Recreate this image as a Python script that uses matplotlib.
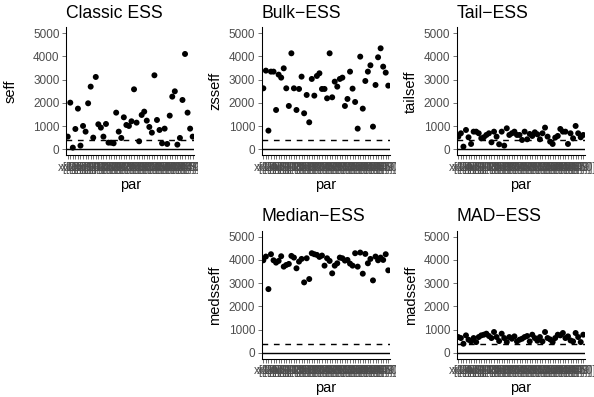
import matplotlib
matplotlib.use("Agg")
import matplotlib.pyplot as plt
from matplotlib.transforms import Bbox
import numpy as np

# Effective sample size estimates per parameter
params = [f"x[{i}]" for i in range(1, 51)]

seff = [546, 2011, 72, 876, 1753, 158, 1006, 761, 1983, 2701,
        503, 3118, 1078, 934, 546, 1092, 287, 287, 259, 1580,
        761, 489, 1379, 1049, 1006, 1207, 2586, 1149, 345, 1480,
        1624, 1236, 963, 718, 3190, 1264, 833, 259, 891, 230,
        1451, 2270, 2500, 201, 489, 2126, 4109, 1580, 891, 546]

zsseff = [2629, 3391, 805, 3348, 3348, 1695, 3218, 3089, 3491, 2629,
          1868, 4138, 2629, 1695, 2601, 3132, 1552, 2342, 1164, 3032,
          2313, 3161, 3276, 2601, 2601, 2198, 4138, 2241, 2917, 2701,
          3032, 3089, 1868, 2170, 3348, 2615, 2040, 891, 3994, 1753,
          2945, 3348, 3621, 977, 2773, 3966, 4353, 3563, 3305, 2744]

tailseff = [546, 690, 115, 833, 517, 230, 761, 761, 690, 474,
            517, 618, 690, 302, 761, 546, 216, 761, 158, 905,
            618, 690, 761, 618, 618, 402, 761, 431, 661, 575,
            733, 646, 431, 690, 934, 546, 330, 230, 503, 575,
            876, 761, 761, 230, 690, 474, 1006, 690, 517, 618]

medsseff = [3988, 4148, 2746, 4249, 3988, 3887, 3960, 4162, 3714, 3786,
            3830, 4176, 4104, 3642, 3931, 4046, 3035, 4075, 3179, 4292,
            4249, 4220, 4133, 4191, 3757, 4075, 3960, 3425, 3757, 3858,
            4104, 4075, 3974, 4003, 3844, 3757, 4292, 3714, 4321, 3410,
            4263, 3858, 4046, 3121, 4148, 3988, 4104, 4003, 4249, 3555]

madsseff = [679, 636, 390, 751, 564, 491, 636, 462, 679, 751,
            780, 824, 723, 636, 896, 679, 506, 824, 636, 462,
            679, 607, 708, 491, 564, 607, 679, 723, 491, 780,
            636, 520, 679, 491, 896, 636, 578, 462, 636, 780,
            751, 853, 636, 708, 534, 491, 853, 679, 462, 780]

panels = [
    ("Classic ESS", "seff", seff),
    ("Bulk\u2212ESS", "zsseff", zsseff),
    ("Tail\u2212ESS", "tailseff", tailseff),
    ("Median\u2212ESS", "medsseff", medsseff),
    ("MAD\u2212ESS", "madsseff", madsseff),
]

threshold = 400
yticks = [0, 1000, 2000, 3000, 4000, 5000]

W, H = 594, 397
DPI = 96
plt.rcParams["font.family"] = ["Liberation Sans", "DejaVu Sans"]
fig = plt.figure(figsize=(W / DPI, H / DPI), dpi=DPI)

# panel boxes in pixels: (left, top, width, height), y-label centre x, x-label centre y,
# and the horizontal extent of the grid cell holding each panel
boxes = [
    (66.2, 27.5, 128, 127.6, 10.5, 185, 0, 198),
    (261.8, 27.5, 128, 127.6, 215, 185, 198, 396),
    (456.8, 27.5, 128, 127.6, 411, 185, 396, 594),
    (261.8, 231.0, 128, 127.6, 215, 388, 198, 396),
    (456.8, 231.0, 128, 127.6, 411, 388, 396, 594),
]

n = len(params)
xpos = np.arange(n)

for (title, ylab, vals), (l, t, w, h, ylx, xly, c0, c1) in zip(panels, boxes):
    ax = fig.add_axes([l / W, 1 - (t + h) / H, w / W, h / H])
    ax.set_xlim(-0.6, n - 1 + 0.6)
    ax.set_ylim(-250, 5250)
    ax.axhline(0, color="black", lw=1.07, zorder=1)
    ax.axhline(threshold, color="black", lw=1.07, ls=(0, (4, 4)), zorder=1)
    ax.scatter(xpos, vals, s=20, color="black", edgecolors="none", zorder=3)

    ax.set_xticks(xpos)
    ax.set_xticklabels(params, fontsize=8.8, color="#4D4D4D")
    ax.set_yticks(yticks)
    ax.set_yticklabels([str(v) for v in yticks], fontsize=8.8, color="#4D4D4D")
    ax.tick_params(axis="both", length=2.75, width=0.5, color="#333333", pad=2.2)

    # keep the crowded category labels inside the panel's own grid cell
    cell = Bbox.from_extents(c0 * DPI / DPI, 0, c1, H)
    for lab in ax.get_xticklabels():
        lab.set_clip_box(cell)
        lab.set_clip_on(True)

    for side in ("top", "right"):
        ax.spines[side].set_visible(False)
    for side in ("left", "bottom"):
        ax.spines[side].set_linewidth(0.8)
        ax.spines[side].set_color("black")

    ax.set_title(title, fontsize=13.2, pad=7.3, loc="left")
    ax.set_xlabel("par", fontsize=11)
    ax.set_ylabel(ylab, fontsize=11)
    ax.yaxis.label.set_va("center")
    ax.xaxis.label.set_va("center")
    ax.yaxis.set_label_coords((ylx - l) / w, 0.5)
    ax.xaxis.set_label_coords(0.5, -(xly - (t + h)) / h)
    ax.set_facecolor("white")

fig.savefig("out.png", dpi=DPI, facecolor="white")
